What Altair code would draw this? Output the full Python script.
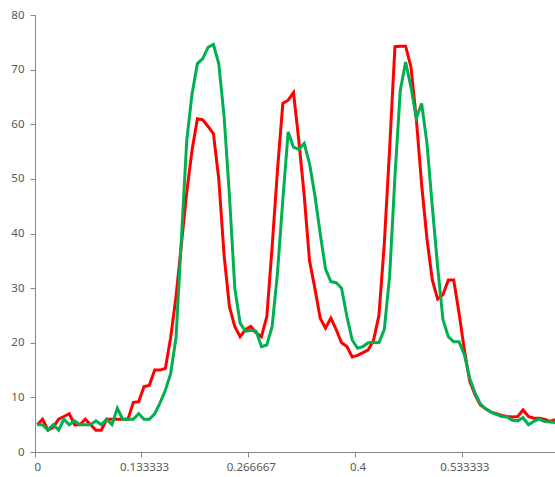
import altair as alt
import pandas as pd

# category step of the x axis (each sample is 1/150 apart)
x_step = 1 / 150
n_points = 98
x_values = [i * x_step for i in range(n_points)]

red_values = [
    5, 6, 4, 4.5, 6, 6.5, 7, 5, 5, 6,
    5, 4, 4, 6, 6, 6, 6, 6, 9.1, 9.2,
    12, 12.2, 15, 15, 15.3, 21, 28.5, 38, 47.5, 55.3,
    61, 60.8, 59.6, 58.3, 50, 36, 26.6, 23, 21.1, 22.4,
    23, 21.8, 21.1, 24.8, 37.6, 51.6, 63.8, 64.4, 65.8, 57,
    47, 35, 30, 24.5, 22.7, 24.5, 22.4, 20, 19.3, 17.4,
    17.7, 18.2, 18.7, 20.5, 25, 38, 55.5, 74.2, 74.3, 74.3,
    70.5, 61, 49, 39, 31.5, 28, 28.8, 31.5, 31.5, 25.5,
    18.7, 13, 10.5, 8.6, 7.9, 7.3, 7, 6.7, 6.5, 6.4,
    6.5, 7.7, 6.5, 6.2, 6.2, 6, 5.6, 5.9,
]

green_values = [
    5, 5, 4, 5, 4, 6, 5, 5.7, 5, 5,
    5, 5.7, 5, 6, 5, 8, 6, 6, 6, 7,
    6, 6, 7, 9, 11.3, 14.4, 21, 39, 57, 65.6,
    71.1, 72, 74.1, 74.6, 71.1, 61.4, 47, 30, 23.6, 22.1,
    22.3, 22.1, 19.3, 19.6, 23, 32.8, 46.2, 58.6, 55.8, 55.4,
    56.5, 52.8, 47, 40, 33.5, 31.2, 31, 30, 24.8, 20.5,
    19, 19.3, 20, 20.1, 20, 22.4, 32.1, 50.4, 66.2, 71.4,
    66.8, 61.1, 63.8, 56.5, 44.9, 33.9, 24.2, 21.1, 20.2, 20.2,
    17.8, 13.5, 10.8, 8.8, 7.9, 7.3, 6.9, 6.5, 6.4, 5.8,
    5.7, 6.3, 5, 5.6, 6, 5.6, 5.5, 5.4,
]

x_tick_values = [0, 20 * x_step, 40 * x_step, 60 * x_step, 80 * x_step]
x_tick_labels = ["0", "0.133333", "0.266667", "0.4", "0.533333"]
y_tick_values = [0, 10, 20, 30, 40, 50, 60, 70, 80]

df_red = pd.DataFrame({"x": x_values, "y": red_values})
df_green = pd.DataFrame({"x": x_values, "y": green_values})

label_expr = "[" + ",".join("'%s'" % s for s in x_tick_labels) + "][round(datum.value * 7.5)]"

axis_color = "#868686"
label_color = "#595959"
font = "Noto Sans"

x_scale = alt.Scale(domain=[-0.42 * x_step, 96.98 * x_step], nice=False, zero=False)
y_scale = alt.Scale(domain=[0, 80], nice=False)

x_axis = alt.Axis(
    values=x_tick_values, labelExpr=label_expr, title=None, grid=False,
    tickSize=5, tickOffset=-2.67, labelOffset=2.67, labelPadding=4,
    domainColor=axis_color, tickColor=axis_color, labelColor=label_color,
    labelFont=font, labelFontSize=11.5, labelOverlap=False,
)
y_axis = alt.Axis(
    values=y_tick_values, title=None, grid=False,
    tickSize=5, labelPadding=6,
    domainColor=axis_color, tickColor=axis_color, labelColor=label_color,
    labelFont=font, labelFontSize=11.5,
)

red_line = alt.Chart(df_red).mark_line(color="#FF0000", strokeWidth=3, clip=True).encode(
    x=alt.X("x:Q", scale=x_scale, axis=x_axis),
    y=alt.Y("y:Q", scale=y_scale, axis=y_axis),
)
green_line = alt.Chart(df_green).mark_line(color="#00B050", strokeWidth=3, clip=True).encode(
    x=alt.X("x:Q", scale=x_scale, axis=x_axis),
    y=alt.Y("y:Q", scale=y_scale, axis=y_axis),
)

chart = alt.layer(red_line, green_line).properties(
    width=520,
    height=437,
    padding={"left": 35, "top": 15, "right": 0, "bottom": 25},
    autosize=alt.AutoSizeParams(type="none"),
    background="white",
).configure_view(stroke=None)

chart.save("out.html", embed_options={"renderer": "svg", "actions": False})
